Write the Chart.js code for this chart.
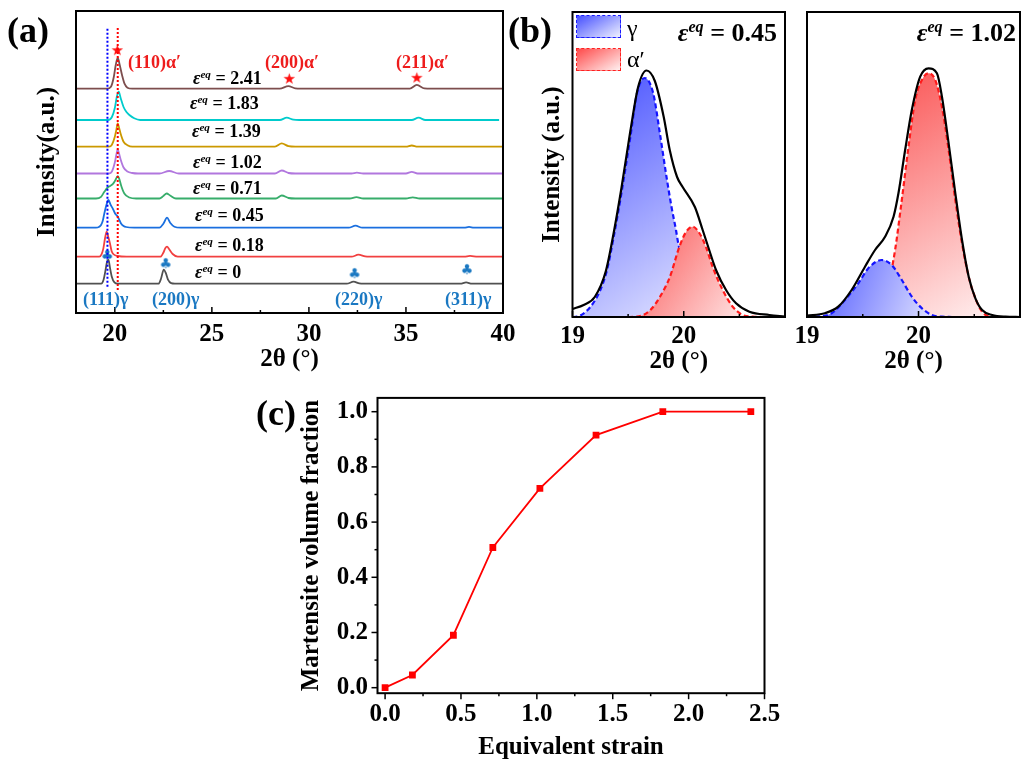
<!DOCTYPE html>
<html>
<head>
<meta charset="utf-8">
<title>XRD and martensite fraction</title>
<script src="https://cdn.jsdelivr.net/npm/chart.js@4.4.1/dist/chart.umd.min.js"></script>
<style>
  body { margin: 0; background: #fff; }
  #fig { position: relative; width: 1030px; height: 771px; overflow: hidden; font-family: 'Liberation Serif', 'Times New Roman', serif; }
  #fig canvas { position: absolute; left: 0; top: 0; }
  .lbl { position: absolute; white-space: nowrap; line-height: 1; transform: translateY(-50%); font-weight: bold; }
  .lbl sup { font-size: 0.62em; vertical-align: 0.55em; line-height: 0; }
  .box { position: absolute; box-sizing: border-box; width: 45px; height: 23px; }
</style>
</head>
<body>
<div id="fig">
  <canvas id="chartA" width="1030" height="771"></canvas>
  <canvas id="chartB1" width="1030" height="771"></canvas>
  <canvas id="chartB2" width="1030" height="771"></canvas>
  <canvas id="chartC" width="1030" height="771"></canvas>
  <div class="box" style="left:576px;top:15px;border:1.5px dashed #1a1aff;background:linear-gradient(150deg,#4650ff,#eef0ff);"></div>
  <div class="box" style="left:576px;top:48px;border:1.5px dashed #ff2020;background:linear-gradient(150deg,#ff4a4a,#fff0f0);"></div>
</div>
<script>
// ---- (a) XRD patterns, [2theta, intensity above own baseline] ----
const strains = ['0', '0.18', '0.45', '0.71', '1.02', '1.39', '1.83', '2.41'];
const offsets = [29.3, 56.3, 85.3, 114.5, 139.5, 166.3, 193, 224.3];

const xrd0 = [[18,0],[19.3,0],[19.42,4],[19.51,12.3],[19.6,22],[19.67,24],[19.75,16],[19.84,7.3],[19.98,1.3],[20.15,0],
  [22.25,0],[22.38,5],[22.52,14],[22.62,11],[22.74,4],[22.9,0.5],[23.1,0],[31.95,0],[32.3,2],[32.6,0.3],[32.8,0],
  [37.8,0],[38.1,1.3],[38.4,0],[40,0]];
const xrd018 = [[18,0],[19.2,0],[19.32,2.5],[19.41,8.3],[19.5,19],[19.58,25],[19.66,20],[19.75,13.3],[19.83,6],[19.92,2.7],[20.15,0.7],[20.6,0],
  [22.35,0],[22.5,4],[22.6,8.5],[22.69,10],[22.8,7.5],[22.98,2.7],[23.24,0],[32.2,0],[32.55,2],[32.9,0.3],[33.1,0],
  [38.0,0],[38.3,0.8],[38.7,0],[40,0]];
const xrd045 = [[18,0],[19.03,0],[19.2,1],[19.29,2.7],[19.38,7],[19.46,14.3],[19.57,23],[19.67,27.7],[19.78,23],[19.89,19.3],[20.02,14],
  [20.15,11],[20.25,7],[20.32,4.3],[20.45,1.8],[20.58,0.7],[21,0],[22.3,0],[22.5,4],[22.69,10],[22.85,5],[23.07,1],[23.4,0],
  [32.05,0],[32.4,2],[32.75,0],[38.0,0],[38.25,0.8],[38.5,0],[40,0]];
const xrd071 = [[18,0],[19.03,0],[19.29,1.7],[19.46,6.7],[19.63,11],[19.76,12.5],[19.89,14.3],[20.02,18],[20.15,22.3],[20.24,19],
  [20.32,13.3],[20.49,5],[20.75,1],[21.1,0],[22.3,0],[22.5,2.5],[22.67,5],[22.85,3],[23.15,0],[28.3,0],[28.6,3],[28.95,0.5],[29.3,0],
  [32.1,0],[32.45,1.3],[32.8,0],[35.0,0],[35.35,1.2],[35.7,0],[40,0]];
const xrd102 = [[18,0],[19.7,0],[19.85,2],[20.0,11],[20.08,19],[20.15,24],[20.22,20],[20.3,14],[20.45,6],[20.65,2],[20.9,0.5],[21.2,0],
  [22.3,0],[22.8,2.5],[23.3,0],[28.25,0],[28.6,3],[28.95,0.5],[29.3,0],[32.2,0],[32.47,0.8],[32.8,0],[35.0,0],[35.3,1.6],[35.6,0],[40,0]];
const xrd139 = [[18,0],[19.7,0],[19.85,2],[20.0,10],[20.08,17],[20.15,23.3],[20.22,19],[20.3,13],[20.45,5],[20.65,1.5],[20.9,0],
  [28.25,0],[28.6,3.3],[28.95,0.5],[29.3,0],[35.0,0],[35.3,1.2],[35.6,0],[40,0]];
const xrd183 = [[18,0],[19.65,0],[19.85,3],[20.0,12],[20.1,23],[20.2,28.3],[20.3,22],[20.45,13],[20.6,8],[20.75,5],[21.0,1.7],[21.3,0],
  [28.5,0],[28.86,2.3],[29.2,0.3],[29.5,0],[35.3,0],[35.65,2.3],[36.0,0],[39.8,0]];
const xrd241 = [[18,0],[19.6,0],[19.8,2],[19.95,12],[20.05,24],[20.15,30.7],[20.25,24],[20.38,13],[20.5,5],[20.65,1],[20.9,0],
  [28.5,0],[28.94,2.6],[29.3,0.3],[29.6,0],[35.2,0],[35.56,3.8],[35.95,0.3],[36.3,0],[40,0]];
const xrdCurves = [xrd0, xrd018, xrd045, xrd071, xrd102, xrd139, xrd183, xrd241];

const refLines = [19.62, 20.15];           // gamma (111) and alpha' (110) positions
const alphaPeaks = [[20.13,262.3],[28.99,233.7],[35.56,234.7]];
const gammaPeaks = [[19.61,58],[22.62,49.7],[32.35,39.7],[38.14,43.7]];
const aMajor = [20, 25, 30, 35, 40];
const aMinor = [22.5, 27.5, 32.5, 37.5];

// ---- (b) peak fitting of the first peak ----
const fit045Total = [[19.0,8],[19.1,12],[19.2,20],[19.3,46],[19.37,84],[19.44,129],[19.52,186],[19.59,230],[19.665,246.5],[19.74,236],
  [19.82,200],[19.874,167],[19.94,140],[19.99,130],[20.1,110],[20.17,87],[20.22,70],[20.29,47],[20.38,27],[20.47,13.7],[20.59,5.3],[20.77,2],[20.91,0.5]];
const fit045Gamma = [[19.0,0],[19.04,0.3],[19.16,10],[19.25,27],[19.31,47],[19.37,80],[19.44,124],[19.52,180],[19.58,224],[19.65,239],
  [19.725,224],[19.785,184],[19.845,140],[19.89,110],[19.93,87],[19.95,74],[20.0,52],[20.1,25],[20.2,10],[20.3,3],[20.4,0.5],[20.5,0]];
const fit045Alpha = [[19.5,0],[19.58,0.3],[19.7,7],[19.785,20],[19.875,40],[19.96,70],[20.02,85],[20.08,90.3],[20.14,84],[20.2,70],
  [20.26,50],[20.35,27],[20.44,10.3],[20.53,2],[20.62,0.3],[20.7,0]];

const fit102Total = [[19.0,1.3],[19.16,3.7],[19.28,10.3],[19.4,27],[19.52,50.3],[19.61,67],[19.7,80.3],[19.776,100.3],[19.82,123.7],[19.88,167],
  [19.94,207],[20.015,240.3],[20.09,248.7],[20.165,243.7],[20.21,220.3],[20.27,173.7],[20.33,123.7],[20.39,77],[20.45,40.3],[20.51,18.7],
  [20.57,7],[20.66,2],[20.78,0.3],[20.91,0]];
const fit102Gamma = [[19.0,0],[19.07,0.3],[19.22,3.7],[19.34,17],[19.46,33.7],[19.55,48.7],[19.67,57],[19.76,52],[19.85,37],[19.94,20.3],
  [20.03,8.7],[20.12,2],[20.21,0.3],[20.3,0]];
const fit102Alpha = [[19.5,0],[19.6,4],[19.68,18],[19.74,38],[19.79,67],[19.85,117],[19.91,170.3],[19.97,217],[20.03,237],[20.09,243.7],
  [20.15,237],[20.21,210.3],[20.27,167],[20.33,117],[20.39,73.7],[20.45,40.3],[20.51,18.7],[20.57,5.3],[20.66,0.3],[20.75,0]];
const bMajor = [19, 20];
const bMinor = [19.5, 20.5];

// ---- (c) martensite fraction ----
const eqStrain = [0, 0.18, 0.45, 0.71, 1.02, 1.39, 1.83, 2.41];
const martFraction = [0, 0.046, 0.19, 0.508, 0.722, 0.915, 1.0, 1.0];
const cMajorX = [0, 0.5, 1.0, 1.5, 2.0, 2.5];
const cMinorX = [0.25, 0.75, 1.25, 1.75, 2.25];
const cMajorY = [0, 0.2, 0.4, 0.6, 0.8, 1.0];
const cMinorY = [0.1, 0.3, 0.5, 0.7, 0.9];

const xrdColors = ['#515151', '#f14040', '#1a6fdf', '#37ad6b', '#b177de', '#cc9900', '#00cbcc', '#7d4e4e'];
const serif = "'Liberation Serif', 'Times New Roman', serif";
const bigFont = { family: serif, size: 25, weight: 'bold' };
Chart.defaults.font.family = serif;
Chart.defaults.color = '#000';

const toXY = (arr, dy = 0) => arr.map(p => ({ x: p[0], y: p[1] + dy }));
const allTicks = (a, b) => a.concat(b).sort((p, q) => p - q);

// box frame plus inward / outward tick marks
const frame = {
  id: 'frame',
  afterDraw(chart, args, o) {
    const { ctx, chartArea: a, scales } = chart;
    ctx.save();
    ctx.strokeStyle = '#000';
    ctx.lineWidth = 1.5;
    (o.marks || []).forEach(m => {
      const s = scales[m.axis];
      s.ticks.forEach(t => {
        const p = s.getPixelForValue(t.value);
        const len = m.major.includes(t.value) ? m.len : m.len / 2;
        ctx.beginPath();
        if (m.axis === 'x') { ctx.moveTo(p, a.bottom); ctx.lineTo(p, a.bottom + m.dir * len); }
        else { ctx.moveTo(a.left, p); ctx.lineTo(a.left + m.dir * len, p); }
        ctx.stroke();
      });
    });
    ctx.lineWidth = 2;
    ctx.strokeRect(a.left, a.top, a.right - a.left, a.bottom - a.top);
    ctx.restore();
  }
};

function glyph(ch, color, size) {
  const c = document.createElement('canvas');
  c.width = size + 4; c.height = size + 4;
  const g = c.getContext('2d');
  g.fillStyle = color;
  g.font = size + "px 'DejaVu Sans'";
  g.textAlign = 'center';
  g.textBaseline = 'middle';
  g.fillText(ch, c.width / 2, c.height / 2 + 1);
  return c;
}

function xAxis(min, max, major, minor, fmt, title, height, tickPad, titlePad) {
  return {
    type: 'linear', min, max,
    grid: { display: false, drawTicks: false }, border: { display: false },
    afterBuildTicks: s => { s.ticks = allTicks(major, minor).map(v => ({ value: v })); },
    ticks: { font: bigFont, color: '#000', padding: tickPad, maxRotation: 0, autoSkip: false,
      callback: v => major.includes(v) ? fmt(v) : '' },
    title: { display: true, text: title, font: bigFont, color: '#000', padding: { top: 0, bottom: titlePad } },
    afterFit: s => { s.height = height; }
  };
}

const baseOpts = (padding) => ({
  responsive: false, animation: false, events: [],
  layout: { padding },
  plugins: { legend: { display: false }, tooltip: { enabled: false } }
});

// ---------- chart (a) ----------
const star = glyph('\u2605', '#ff1010', 15);
const club = glyph('\u2663', '#1a78c2', 14);
const dsA = [
  { data: [{ x: refLines[0], y: 26.3 }, { x: refLines[0], y: 284.7 }], borderColor: '#0000ff', borderWidth: 2, borderDash: [2, 2], pointRadius: 0 },
  { data: [{ x: refLines[1], y: 23 }, { x: refLines[1], y: 285 }], borderColor: '#ff0000', borderWidth: 2, borderDash: [2, 2], pointRadius: 0 },
  { data: toXY(alphaPeaks), showLine: false, pointStyle: star, pointRadius: 6 },
  { data: toXY(gammaPeaks), showLine: false, pointStyle: club, pointRadius: 6 }
];
xrdCurves.forEach((c, i) => dsA.push({
  data: toXY(c, offsets[i]), borderColor: xrdColors[i], borderWidth: 1.8, pointRadius: 0,
  cubicInterpolationMode: 'monotone'
}));

const optA = baseOpts({ left: 0, top: 11, right: 527, bottom: 391 });
optA.plugins.frame = { marks: [{ axis: 'x', major: aMajor, len: 6, dir: -1 }] };
optA.scales = {
  x: xAxis(18, 40, aMajor, aMinor, v => String(v), '2θ (°)', 67, 7, 5),
  y: { type: 'linear', min: 0, max: 302, grid: { display: false, drawTicks: false }, border: { display: false },
    ticks: { display: false },
    title: { display: true, text: 'Intensity(a.u.)', font: bigFont, color: '#000', padding: { top: 33, bottom: 0 } },
    afterFit: s => { s.width = 76; } }
};
new Chart(document.getElementById('chartA'), { type: 'line', data: { datasets: dsA }, options: optA, plugins: [frame] });

// ---------- charts (b) ----------
function grad(dark, light) {
  return c => {
    const chart = c.chart, a = chart.chartArea;
    if (!a) return light;
    const d = chart.data.datasets[c.datasetIndex].data;
    const xs = chart.scales.x, ys = chart.scales.y;
    const x0 = xs.getPixelForValue(d[0].x), x1 = xs.getPixelForValue(d[d.length - 1].x);
    const top = ys.getPixelForValue(Math.max(...d.map(p => p.y)));
    const g = chart.ctx.createLinearGradient(x0, top, x1, a.bottom);
    g.addColorStop(0, dark);
    g.addColorStop(1, light);
    return g;
  };
}
const blueFill = grad('rgb(66,76,255)', 'rgb(242,243,255)');
const redFill = grad('rgb(250,78,78)', 'rgb(255,242,242)');

const totalDs = d => ({ data: toXY(d), borderColor: '#000', borderWidth: 2.2, pointRadius: 0, cubicInterpolationMode: 'monotone', fill: false });
const gammaDs = d => ({ data: toXY(d), borderColor: '#1414ff', borderWidth: 2.2, borderDash: [5, 3], pointRadius: 0,
  cubicInterpolationMode: 'monotone', fill: 'origin', backgroundColor: blueFill });
const alphaDs = d => ({ data: toXY(d), borderColor: '#ff1a1a', borderWidth: 2.2, borderDash: [5, 3], pointRadius: 0,
  cubicInterpolationMode: 'monotone', fill: 'origin', backgroundColor: redFill });

function optB(padLeft, padRight, yTitle) {
  const o = baseOpts({ left: padLeft, top: 12, right: padRight, bottom: 391 });
  o.plugins.frame = { marks: [{ axis: 'x', major: bMajor, len: 6, dir: -1 }] };
  const y = { type: 'linear', min: 0, max: 305, display: !!yTitle, grid: { display: false, drawTicks: false }, border: { display: false },
    ticks: { display: false },
    title: { display: !!yTitle, text: yTitle || '', font: bigFont, color: '#000', padding: { top: 8, bottom: 0 } } };
  if (yTitle) y.afterFit = s => { s.width = 42.5; };
  o.scales = { x: xAxis(19, 20.91, bMajor, bMinor, v => String(v), '2θ (°)', 63, 5, 3), y };
  return o;
}
new Chart(document.getElementById('chartB1'), {
  type: 'line',
  data: { datasets: [totalDs(fit045Total), alphaDs(fit045Alpha), gammaDs(fit045Gamma)] },
  options: optB(530, 245, 'Intensity (a.u.)'), plugins: [frame]
});
new Chart(document.getElementById('chartB2'), {
  type: 'line',
  data: { datasets: [totalDs(fit102Total), gammaDs(fit102Gamma), alphaDs(fit102Alpha)] },
  options: optB(807, 10, null), plugins: [frame]
});

// ---------- chart (c) ----------
const optC = baseOpts({ left: 290, top: 397.9, right: 265.5, bottom: 1 });
optC.plugins.frame = { marks: [
  { axis: 'x', major: cMajorX, len: 6, dir: 1 },
  { axis: 'y', major: cMajorY, len: 6, dir: -1 }
] };
optC.scales = {
  x: xAxis(-0.05, 2.5, cMajorX, cMinorX, v => v.toFixed(1), 'Equivalent strain', 76.8, 6, 7),
  y: { type: 'linear', min: -0.02, max: 1.05, grid: { display: false, drawTicks: false }, border: { display: false },
    afterBuildTicks: s => { s.ticks = allTicks(cMajorY, cMinorY).map(v => ({ value: v })); },
    ticks: { font: bigFont, color: '#000', padding: 9.4, autoSkip: false,
      callback: v => cMajorY.includes(v) ? v.toFixed(1) : '' },
    title: { display: true, text: 'Martensite volume fraction', font: bigFont, color: '#000', padding: { top: 7, bottom: 0 } },
    afterFit: s => { s.width = 87.5; } }
};
new Chart(document.getElementById('chartC'), {
  type: 'line',
  data: { datasets: [{
    data: eqStrain.map((x, i) => ({ x, y: martFraction[i] })),
    borderColor: '#ff0000', borderWidth: 1.8, pointStyle: 'rect', pointRadius: 4.8,
    pointBackgroundColor: '#ff0000', pointBorderWidth: 0
  }] },
  options: optC, plugins: [frame]
});

// ---------- text labels ----------
const fig = document.getElementById('fig');
function addLabel(html, x, y, size, color, opt = {}) {
  const d = document.createElement('div');
  d.className = 'lbl';
  d.innerHTML = html;
  d.style.fontSize = size + 'px';
  d.style.color = color || '#000';
  d.style.top = y + 'px';
  if (opt.right) d.style.right = (1030 - x) + 'px'; else d.style.left = x + 'px';
  if (opt.normal) d.style.fontWeight = 'normal';
  fig.appendChild(d);
}
const eps = v => '<i>ε</i><sup><i>eq</i></sup> = ' + v;

addLabel('(a)', 7, 30, 36);
addLabel('(b)', 508, 30, 36);
addLabel('(c)', 256, 413, 36);

const epsPos = [[195, 272], [195, 245], [195, 215], [193, 188], [193, 162], [192, 131], [190, 103], [193, 78]];
strains.forEach((s, i) => addLabel(eps(s), epsPos[i][0], epsPos[i][1], 18));

addLabel('(110)α′', 128, 62, 18, '#ee1c1c');
addLabel('(200)α′', 265, 62, 18, '#ee1c1c');
addLabel('(211)α′', 396, 62, 18, '#ee1c1c');
addLabel('(111)γ', 83, 299, 18, '#1a78c2');
addLabel('(200)γ', 152, 299, 18, '#1a78c2');
addLabel('(220)γ', 335, 299, 18, '#1a78c2');
addLabel('(311)γ', 445, 299, 18, '#1a78c2');

addLabel('γ', 627, 28, 24, '#000', { normal: true });
addLabel('α′', 627, 59, 24, '#000', { normal: true });
addLabel(eps('0.45'), 777, 33, 26, '#000', { right: true });
addLabel(eps('1.02'), 1016, 33, 26, '#000', { right: true });
</script>
</body>
</html>
